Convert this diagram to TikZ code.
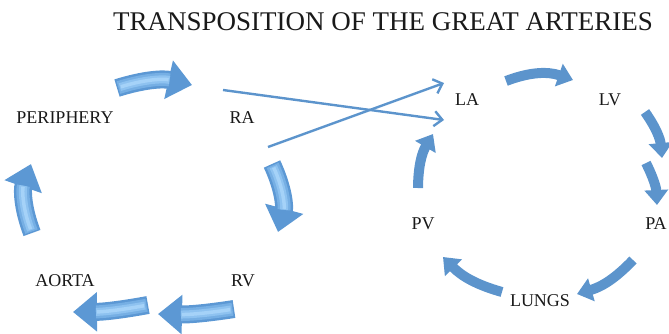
\documentclass[tikz,border=0pt]{standalone}
\usepackage{fontspec}
\setmainfont{Liberation Serif}
\usetikzlibrary{arrows.meta}
\definecolor{flat}{RGB}{92,148,204}
\definecolor{fat0}{RGB}{92,152,212}
\definecolor{fat1}{RGB}{118,175,228}
\definecolor{fat2}{RGB}{142,194,240}
\definecolor{fat3}{RGB}{165,210,248}
\definecolor{txt}{RGB}{25,25,25}
\newcommand\fatarrowdraw[3]{%
  \draw[fatarrow] (#1) to[bend left=#3] (#2);
  \draw[fatA] (#1) to[bend left=#3] (#2);
  \draw[fatB] (#1) to[bend left=#3] (#2);
  \draw[fatC] (#1) to[bend left=#3] (#2);}
\begin{document}
\begin{tikzpicture}[x=1pt,y=-1pt,
  lbl/.style={font=\fontsize{18}{18}\selectfont, text=txt},
  flatarrow/.style={draw=flat, line width=10pt, -{Triangle[length=15pt,width=23pt]}},
  fatarrow/.style={draw=fat0, line width=18pt, -{Triangle[length=24pt,width=38pt]}},
  fatA/.style={draw=fat1, line width=13pt, shorten >=23pt, shorten <=1.5pt},
  fatB/.style={draw=fat2, line width=8pt, shorten >=23pt, shorten <=3pt},
  fatC/.style={draw=fat3, line width=3.5pt, shorten >=24pt, shorten <=4pt},
  thinarrow/.style={draw=flat, line width=2.4pt, -{Straight Barb[length=8pt,width=15pt]}}]
\useasboundingbox (0,0) rectangle (669,333);

\node[font=\fontsize{27}{27}\selectfont, text=txt] (title) at (383,22) {TRANSPOSITION OF THE GREAT ARTERIES};

% labels
\node[lbl] (periphery) at (65,118) {PERIPHERY};
\node[lbl] (ra) at (242,118) {RA};
\node[lbl] (rv) at (243,281) {RV};
\node[lbl] (aorta) at (65,281) {AORTA};
\node[lbl] (la) at (467,100) {LA};
\node[lbl] (lv) at (610,100) {LV};
\node[lbl] (pa) at (656,224) {PA};
\node[lbl] (pv) at (423,224) {PV};
\node[lbl] (lungs) at (540,301) {LUNGS};

% fat arrows (systemic loop)
\coordinate (f1a) at (117,88);  \coordinate (f1b) at (192,85);
\coordinate (f2a) at (272,164); \coordinate (f2b) at (278,232);
\coordinate (f3a) at (234,309); \coordinate (f3b) at (158,314);
\coordinate (f4a) at (148,305); \coordinate (f4b) at (73,312);
\coordinate (f5a) at (32,233);  \coordinate (f5b) at (31,164);
\fatarrowdraw{f1a}{f1b}{15}
\fatarrowdraw{f2a}{f2b}{20}
\fatarrowdraw{f3a}{f3b}{5}
\fatarrowdraw{f4a}{f4b}{5}
\fatarrowdraw{f5a}{f5b}{20}

% flat arrows (pulmonary loop)
\coordinate (p1a) at (506,81);  \coordinate (p1b) at (573,80);
\coordinate (p2a) at (645,112); \coordinate (p2b) at (662,158);
\coordinate (p3a) at (646,163); \coordinate (p3b) at (657,205);
\coordinate (p4a) at (633,260); \coordinate (p4b) at (577,294);
\coordinate (p5a) at (502,292); \coordinate (p5b) at (443,257);
\coordinate (p6a) at (418,188); \coordinate (p6b) at (433,134);
\draw[flatarrow] (p1a) to[bend left=20] (p1b);
\draw[flatarrow] (p2a) to[bend left=15] (p2b);
\draw[flatarrow] (p3a) to[bend left=12] (p3b);
\draw[flatarrow] (p4a) to[bend left=15] (p4b);
\draw[flatarrow] (p5a) to[bend left=15] (p5b);
\draw[flatarrow] (p6a) to[bend left=15] (p6b);

% crossing thin arrows
\coordinate (t1a) at (223,90);  \coordinate (t1b) at (444,120);
\coordinate (t2a) at (268,147); \coordinate (t2b) at (444,83);
\draw[thinarrow] (t1a) -- (t1b);
\draw[thinarrow] (t2a) -- (t2b);
\end{tikzpicture}
\end{document}
